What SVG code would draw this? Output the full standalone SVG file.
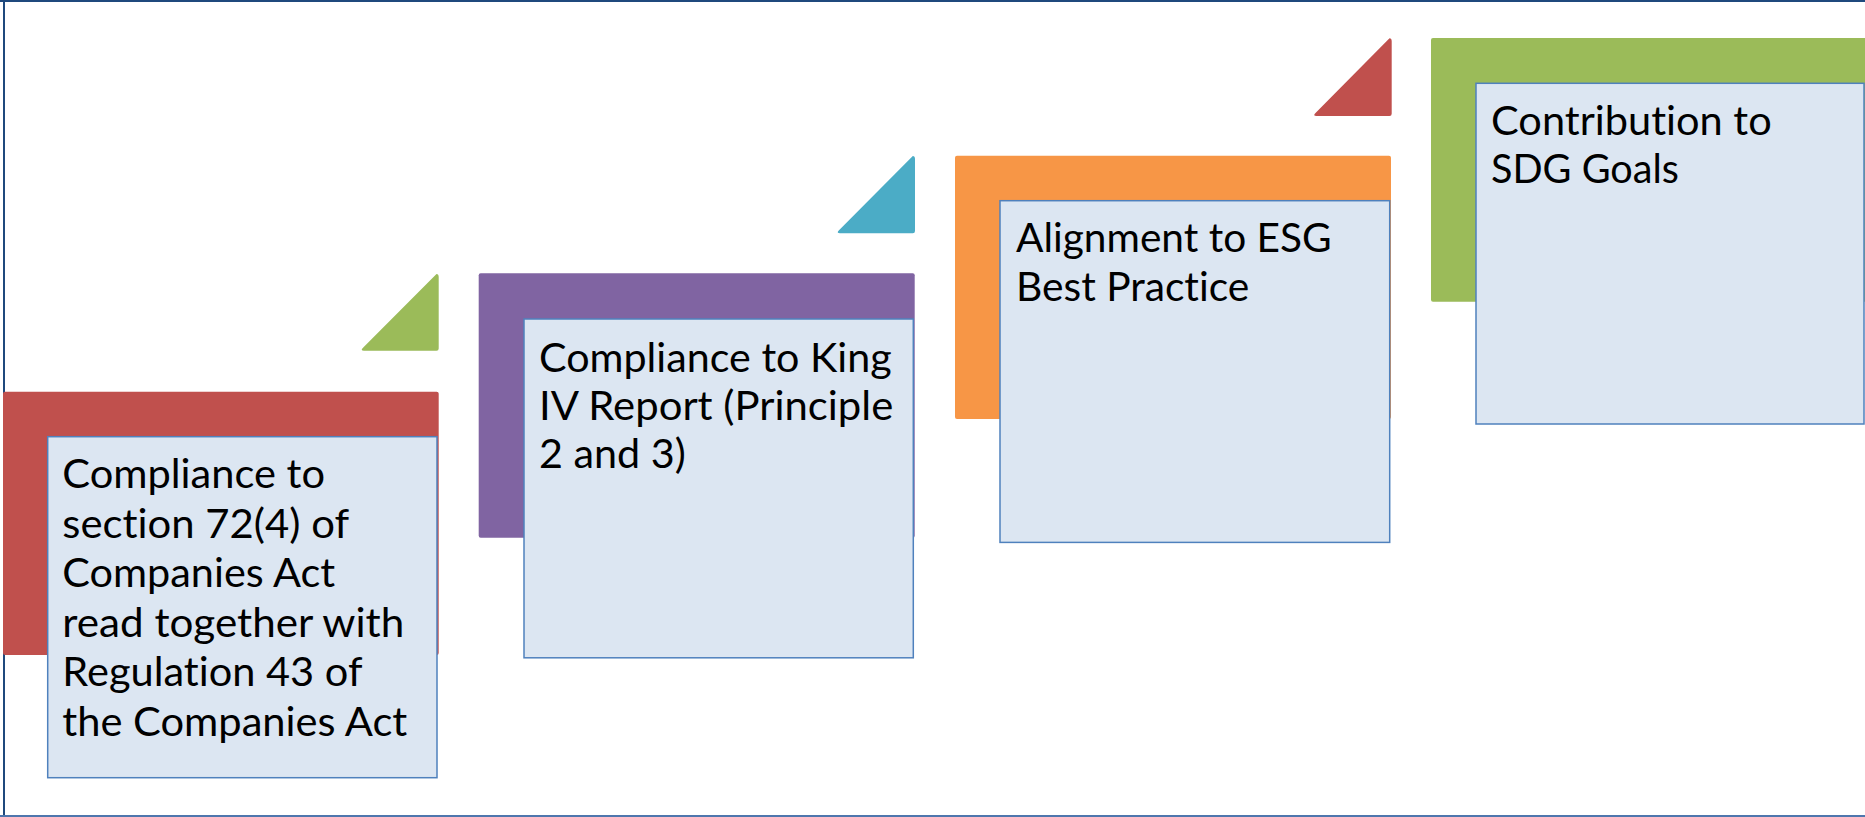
<svg xmlns="http://www.w3.org/2000/svg" width="1865" height="817" viewBox="0 0 1865 817">
  <style>
    .frame-dark { stroke: #1f497d; stroke-width: 2; fill: none; }
    .frame-light { stroke: #4f76ad; stroke-width: 2; fill: none; }
    .card { fill: #dce6f2; stroke: #4f81bd; stroke-width: 1.5; }
    .label { font-family: Lato, "Liberation Sans", sans-serif; font-size: 41px; fill: #000000;
             font-variant-ligatures: none; font-feature-settings: "liga" 0, "clig" 0; }
    .red { fill: #c0504d; }
    .green { fill: #9bbb59; }
    .purple { fill: #8064a2; }
    .teal { fill: #4bacc6; }
    .orange { fill: #f79646; }
  </style>

  <!-- outer frame -->
  <g id="frame">
    <line class="frame-dark" x1="0" y1="1" x2="1865" y2="1"/>
    <line class="frame-dark" x1="4" y1="0" x2="4" y2="817"/>
    <line class="frame-light" x1="0" y1="816" x2="1865" y2="816"/>
  </g>

  <!-- step corner markers -->
  <g id="connectors">
    <path class="green" d="M436.5,274 Q438.7,274 438.7,277 L438.7,348.5 Q438.7,350.7 436.5,350.7 L364,350.7 Q360,350.7 363,347.7 Z"/>
    <path class="teal" d="M912.8,156 Q915,156 915,159 L915,231 Q915,233.3 912.8,233.3 L840,233.3 Q836,233.3 839,230.3 Z"/>
    <path class="red" d="M1389.5,38.3 Q1391.7,38.3 1391.7,41.3 L1391.7,113.8 Q1391.7,116 1389.5,116 L1316.5,116 Q1312.5,116 1315.5,113 Z"/>
  </g>

  <!-- step 1 -->
  <g id="step1">
    <rect class="red" x="3" y="391.7" width="435.7" height="263.3" rx="2"/>
    <rect class="card" x="47.7" y="436.7" width="389.3" height="341"/>
    <text class="label">
      <tspan x="62.3" y="488.3" textLength="262.7" lengthAdjust="spacingAndGlyphs">Compliance to</tspan>
      <tspan x="62.3" y="537.8" textLength="286" lengthAdjust="spacingAndGlyphs">section 72(4) of</tspan>
      <tspan x="62.3" y="587.3" textLength="272.7" lengthAdjust="spacingAndGlyphs">Companies Act</tspan>
      <tspan x="62.3" y="636.8" textLength="342" lengthAdjust="spacingAndGlyphs">read together with</tspan>
      <tspan x="62.3" y="686.3" textLength="299.4" lengthAdjust="spacingAndGlyphs">Regulation 43 of</tspan>
      <tspan x="62.3" y="735.8" textLength="345" lengthAdjust="spacingAndGlyphs">the Companies Act</tspan>
    </text>
  </g>

  <!-- step 2 -->
  <g id="step2">
    <rect class="purple" x="478.7" y="273.3" width="436" height="264.4" rx="2"/>
    <rect class="card" x="524" y="319" width="389.3" height="338.8"/>
    <text class="label">
      <tspan x="539" y="371.7" textLength="352.7" lengthAdjust="spacingAndGlyphs">Compliance to King</tspan>
      <tspan x="539" y="420" textLength="354.3" lengthAdjust="spacingAndGlyphs">IV Report (Principle</tspan>
      <tspan x="539" y="468.3" textLength="146.7" lengthAdjust="spacingAndGlyphs">2 and 3)</tspan>
    </text>
  </g>

  <!-- step 3 -->
  <g id="step3">
    <rect class="orange" x="955" y="155.7" width="436" height="263.3" rx="2"/>
    <rect class="card" x="1000" y="200.7" width="389.7" height="341.7"/>
    <text class="label">
      <tspan x="1016" y="252.3" textLength="315.7" lengthAdjust="spacingAndGlyphs">Alignment to ESG</tspan>
      <tspan x="1016" y="301" textLength="233.3" lengthAdjust="spacingAndGlyphs">Best Practice</tspan>
    </text>
  </g>

  <!-- step 4 -->
  <g id="step4">
    <rect class="green" x="1431" y="38" width="440" height="263.7" rx="2"/>
    <rect class="card" x="1476" y="83.3" width="388" height="340.7"/>
    <text class="label">
      <tspan x="1491" y="135" textLength="280.7" lengthAdjust="spacingAndGlyphs">Contribution to</tspan>
      <tspan x="1491" y="183.3" textLength="188" lengthAdjust="spacingAndGlyphs">SDG Goals</tspan>
    </text>
  </g>
</svg>
